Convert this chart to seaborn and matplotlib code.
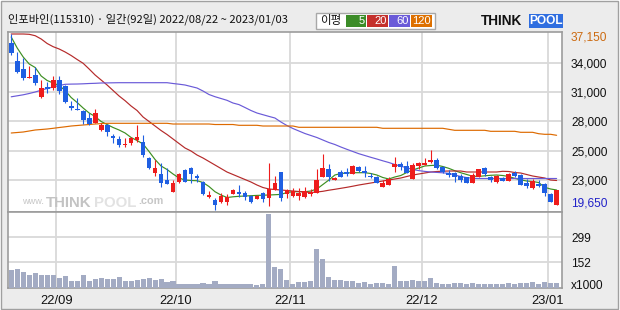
import numpy as np
import pandas as pd
import matplotlib
matplotlib.use("Agg")
import matplotlib.pyplot as plt
import seaborn as sns
from matplotlib.patches import Rectangle
from matplotlib.transforms import blended_transform_factory as btf

# ---------------- data ----------------
title = "인포바인(115310) · 일간(92일) 2022/08/22 ~ 2023/01/03"

opens = [36225, 34465, 33670, 32805, 33073, 30916, 31910, 31751, 32576, 31980,
         29961, 29693, 29524, 28768, 28331, 27605, 28102, 27008, 26710, 26130,
         26282, 26611, 26382, 24791, 23299, 23230, 22633, 21470, 22464, 23627,
         23796, 23061, 22464, 20913, 20645, 20476, 20476, 21241, 21440, 21311,
         21042, 20774, 21311, 20813, 21639, 23459, 21291, 21072, 21042, 20973,
         21211, 21370, 22902, 23697, 22633, 23459, 23459, 23230, 23896, 23528,
         22961, 22902, 21967, 22166, 23955, 24224, 24026, 22703, 24055, 24125,
         24393, 24622, 23896, 23359, 23359, 23031, 22902, 22365, 22961, 23796,
         22902, 22464, 22803, 22564, 23299, 23130, 22305, 21808, 22206, 22235,
         21241, 20148]
highs = [37150, 35390, 34734, 33998, 33839, 32576, 32407, 33004, 33004, 32079,
         30518, 30757, 29593, 29265, 29663, 28331, 28172, 27207, 27008, 26780,
         26939, 28102, 27108, 24950, 24622, 24294, 23796, 22633, 23299, 23697,
         23955, 23230, 22534, 21539, 20813, 21311, 21241, 21738, 22136, 21539,
         21142, 21142, 21410, 24354, 23061, 23459, 21738, 21808, 21808, 21936,
         21708, 23697, 25218, 24195, 22960, 23627, 23796, 24125, 24000, 24055,
         23359, 23031, 22633, 22962, 24950, 24453, 24523, 24294, 24453, 24791,
         25616, 24791, 24000, 23627, 23420, 23230, 22960, 23299, 23750, 23896,
         23031, 23130, 22962, 23299, 23528, 23200, 22703, 22703, 22633, 22300,
         21340, 21639]
lows = [35062, 33242, 32576, 32805, 32079, 30757, 31254, 31582, 31184, 30260,
        29593, 29563, 28172, 28102, 28271, 27535, 27008, 26342, 25944, 25885,
        26113, 26441, 24950, 23697, 23031, 21967, 22206, 21470, 22365, 22405,
        22365, 22464, 21142, 20813, 19650, 20317, 20148, 21200, 20973, 20645,
        20377, 20700, 20476, 20078, 21639, 20575, 20813, 20973, 20645, 20813,
        21042, 21311, 22902, 22564, 22633, 22902, 23031, 23230, 23459, 22902,
        22803, 22365, 21967, 22136, 23459, 23627, 23299, 22703, 23697, 24125,
        24294, 23727, 23299, 22902, 22464, 22464, 22365, 22365, 22961, 23031,
        22464, 22305, 22564, 22564, 22902, 22136, 21808, 21738, 21907, 21042,
        20476, 20148]
closes = [35231, 33342, 32805, 32900, 32248, 31811, 31652, 32576, 31482, 30419,
          29762, 29593, 28599, 28172, 29265, 28102, 27376, 26809, 26113, 26200,
          26780, 26939, 25119, 23856, 23856, 22365, 22235, 22305, 23230, 22464,
          23230, 22862, 21241, 21142, 20148, 21072, 20973, 21639, 21270, 20973,
          20476, 21042, 20714, 21708, 22365, 20873, 21590, 21569, 21370, 21539,
          21470, 22633, 23796, 22961, 22862, 22961, 23230, 24026, 23528, 23299,
          22902, 22365, 22305, 22763, 24224, 23896, 23299, 24125, 24294, 24354,
          24622, 23796, 23459, 23130, 22961, 22633, 22365, 23130, 23697, 23230,
          22633, 23031, 22564, 23230, 23031, 22136, 22037, 22534, 22037, 21311,
          20476, 21639]
volume = [103, 109, 93, 74, 91, 74, 74, 78, 56, 68,
          40, 42, 74, 44, 50, 56, 50, 50, 62, 40,
          42, 48, 52, 56, 48, 50, 36, 40, 26, 26,
          26, 21, 32, 21, 40, 21, 21, 21, 21, 21,
          21, 15, 21, 438, 126, 109, 46, 26, 38, 36,
          40, 232, 173, 62, 46, 46, 40, 40, 30, 34,
          24, 28, 28, 22, 132, 40, 40, 46, 40, 40,
          58, 30, 26, 22, 28, 28, 22, 28, 22, 22,
          22, 22, 22, 28, 22, 28, 28, 34, 22, 34,
          28, 28]
ma5 = [36852, 35758, 34863, 34169, 33819, 32974, 32526, 32278, 32029, 31532,
       30836, 30339, 29792, 29295, 28947, 28450, 28151, 27853, 27605, 27307,
       26859, 26561, 26213, 25467, 24672, 24026, 23677, 23230, 22832, 22633,
       22584, 22564, 22385, 21987, 21470, 21142, 20893, 20963, 21012, 21042,
       21072, 21102, 21122, 21142, 21171, 21201, 21390, 21470, 21470, 21470,
       21540, 21739, 22185, 22633, 23130, 23279, 23329, 23359, 23359, 23359,
       23279, 23130, 22882, 22733, 22931, 23080, 23379, 23627, 23826, 24026,
       24075, 24105, 23976, 23797, 23558, 23359, 23180, 23011, 22991, 23051,
       23101, 23130, 23080, 22981, 22802, 22653, 22534, 22484, 22385, 21907,
       21739, 21639]
ma20 = [37150, 37150, 37150, 37120, 36981, 36653, 36205, 35887, 35659, 35360,
        35012, 34615, 34237, 33670, 33073, 32576, 32079, 31532, 30985, 30518,
        29991, 29543, 28897, 28450, 28002, 27555, 27157, 26710, 26262, 25815,
        25517, 25119, 24821, 24473, 24125, 23777, 23429, 23180, 22931, 22683,
        22434, 22136, 21887, 21739, 21689, 21639, 21589, 21540, 21490, 21440,
        21390, 21440, 21510, 21619, 21709, 21808, 21907, 22017, 22136, 22236,
        22335, 22434, 22534, 22633, 22733, 22832, 22981, 23130, 23230, 23329,
        23429, 23478, 23508, 23528, 23528, 23528, 23429, 23429, 23429, 23429,
        23429, 23429, 23498, 23478, 23379, 23329, 23180, 23031, 22931, 22832,
        22633, 22584]
ma60 = [30906, 31005, 31105, 31234, 31383, 31562, 31731, 31880, 32029, 32149,
        32169, 32178, 32198, 32228, 32248, 32278, 32288, 32298, 32308, 32308,
        32308, 32308, 32308, 32308, 32308, 32308, 32308, 32228, 32159, 32079,
        31930, 31781, 31482, 31134, 30916, 30737, 30558, 30289, 30130, 29842,
        29544, 29295, 29126, 28957, 28798, 28400, 28052, 27754, 27505, 27257,
        27058, 26859, 26610, 26362, 26163, 25914, 25686, 25467, 25248, 25069,
        24890, 24721, 24542, 24373, 24174, 24005, 23846, 23677, 23568, 23488,
        23429, 23389, 23349, 23299, 23130, 22981, 22872, 22802, 22782, 22782,
        22782, 22782, 22782, 22782, 22782, 22782, 22782, 22782, 22782, 22782,
        22782, 22782]
ma120 = [27307, 27356, 27406, 27505, 27605, 27654, 27704, 27774, 27853, 27923,
         28002, 28052, 28102, 28151, 28201, 28241, 28271, 28271, 28271, 28271,
         28271, 28271, 28271, 28271, 28271, 28271, 28271, 28201, 28201, 28201,
         28201, 28201, 28201, 28201, 28151, 28151, 28151, 28151, 28072, 28072,
         28072, 28072, 28002, 28002, 28002, 28002, 28002, 28002, 27873, 27873,
         27873, 27873, 27873, 27873, 27873, 27873, 27873, 27873, 27873, 27873,
         27873, 27873, 27774, 27774, 27774, 27774, 27774, 27774, 27774, 27774,
         27774, 27774, 27774, 27674, 27575, 27575, 27575, 27575, 27575, 27575,
         27475, 27475, 27475, 27475, 27475, 27376, 27376, 27376, 27237, 27177,
         27177, 27078]

month_start_idx = [8, 28, 47, 69, 90]
month_labels = ["22/09", "22/10", "22/11", "22/12", "23/01"]
price_grid = [34237, 31413, 28529, 25547, 22633]
price_grid_labels = ["34,000", "31,000", "28,000", "25,000", "23,000"]
price_max, price_min = 37150, 19650
vol_ticks = [152, 299]
ma_names = ["5", "20", "60", "120"]

# ---------------- style ----------------
UP = "#ee1c1c"
DOWN = "#1f5fe2"
VOLC = "#a3abc3"
MA_COLORS = {"5": "#3d8f22", "20": "#b52a2a", "60": "#6a5ad8", "120": "#dd6a00"}
BOX_COLORS = {"5": "#3c8c28", "20": "#c4302c", "60": "#6a5ad8", "120": "#dd7000"}
GRID = "#d9d9d9"
SPINE = "#9c9c9c"
BG = "#ececec"

sns.set_theme(style="white")
plt.rcParams["font.family"] = ["Noto Sans CJK KR", "DejaVu Sans"]

W, H = 620, 310
fig = plt.figure(figsize=(6.2, 3.1), dpi=100, facecolor="white")


def rect(x0, y0, x1, y1):
    return [x0 / W, 1 - y1 / H, (x1 - x0) / W, (y1 - y0) / H]


def fx(x):
    return x / W


def fy(y):
    return 1 - y / H


fig.patches.append(Rectangle((fx(1), fy(308.5)), (616.5) / W, 307.5 / H,
                             transform=fig.transFigure, facecolor=BG,
                             edgecolor="#a0a0a0", lw=1, zorder=-5))

axp = fig.add_axes(rect(7.5, 32, 562, 212))
axv = fig.add_axes(rect(7.5, 212, 562, 288))
for ax in (axp, axv):
    ax.set_facecolor("white")
    ax.set_axisbelow(True)

n = len(opens)
idx = np.arange(n)
o = np.array(opens, float)
c = np.array(closes, float)
hi = np.array(highs, float)
lo = np.array(lows, float)
colors = np.where(c >= o, UP, DOWN)

# moving averages (seaborn)
ma_df = pd.DataFrame({
    "idx": np.tile(idx, 4),
    "value": np.concatenate([ma5, ma20, ma60, ma120]),
    "ma": np.repeat(ma_names, n),
})
sns.lineplot(data=ma_df, x="idx", y="value", hue="ma", hue_order=ma_names,
             palette=MA_COLORS, estimator=None, sort=False, linewidth=0.85,
             legend=False, ax=axp, zorder=2)

# candles
axp.vlines(idx, lo, hi, colors=colors, lw=0.8, zorder=3)
body_bottom = np.minimum(o, c)
body_h = np.maximum(np.abs(c - o), 90)
axp.bar(idx, body_h, bottom=body_bottom, width=0.8, color=colors,
        linewidth=0, zorder=4)

axp.set_xlim(-0.62, 91.9)
axp.set_ylim(19452, 37349)
axp.set_xlabel("")
axp.set_ylabel("")
axp.set_xticks([m - 0.5 for m in month_start_idx])
axp.set_yticks(price_grid)
axp.set_yticklabels(price_grid_labels)
axp.yaxis.tick_right()
axp.tick_params(axis="x", labelbottom=False, length=0)
axp.tick_params(axis="y", length=0, pad=6.5, labelsize=8.6,
                labelcolor="#111111", labelfontfamily="Liberation Sans")
axp.grid(True, color=GRID, lw=1.3)

tr = btf(axp.transAxes, axp.transData)
axp.text(1 + 9 / 554.5, price_max - 300, f"{price_max:,}", transform=tr,
         ha="left", va="center", fontsize=8.6, color="#cc6a10",
         family="Liberation Sans", clip_on=False)
axp.text(1 + 9 / 554.5, price_min + 600, f"{price_min:,}", transform=tr,
         ha="left", va="center", fontsize=8.6, color="#2222c8",
         family="Liberation Sans", clip_on=False)

# watermark
wm_y = fy(203)
axp.text(fx(22), wm_y + 0.006, "www.", transform=fig.transFigure, fontsize=6.6,
         color="#c6c6c6", ha="left", va="center", family="Liberation Sans",
         zorder=1)
axp.text(fx(46), wm_y, "THINK", transform=fig.transFigure, fontsize=10.8,
         color="#c3c3c3", ha="left", va="center", family="Liberation Sans",
         fontweight="bold", zorder=1)
axp.text(fx(94), wm_y, "POOL", transform=fig.transFigure, fontsize=10.8,
         color="#e2e2e2", ha="left", va="center", family="Liberation Sans",
         fontweight="bold", zorder=1)
axp.text(fx(138), wm_y + 0.005, ".com", transform=fig.transFigure, fontsize=7.8,
         color="#c6c6c6", ha="left", va="center", family="Liberation Sans",
         fontweight="bold", zorder=1)

# volume (seaborn)
sns.barplot(x=idx, y=volume, native_scale=True, color=VOLC, saturation=1,
            width=0.85, errorbar=None, linewidth=0, ax=axv, zorder=3)
axv.set_xlim(-0.62, 91.9)
axv.set_ylim(0, 447)
axv.set_xlabel("")
axv.set_ylabel("")
axv.set_xticks([m - 0.5 for m in month_start_idx])
axv.set_xticklabels(month_labels)
axv.set_yticks(vol_ticks)
axv.set_yticklabels([str(v) for v in vol_ticks])
axv.yaxis.tick_right()
axv.tick_params(axis="x", length=0, pad=5, labelsize=9.3,
                labelcolor="#111111", labelfontfamily="Liberation Sans")
axv.tick_params(axis="y", length=0, pad=6.5, labelsize=8.6,
                labelcolor="#111111", labelfontfamily="Liberation Sans")
axv.grid(True, color=GRID, lw=1.3)
axv.text(1 + 9 / 554.5, 0.02, "x1000", transform=axv.transAxes, ha="left",
         va="center", fontsize=8.6, color="#111111", family="Liberation Sans",
         clip_on=False)

for ax in (axp, axv):
    for s in ax.spines.values():
        s.set_color(SPINE)
        s.set_linewidth(1.2)
        s.set_visible(True)

# title
fig.text(fx(8), fy(19), title, fontsize=8.1, ha="left", va="center",
         color="#111111")

# legend box
fig.patches.append(Rectangle((fx(316), fy(29)), 119 / W, 16.5 / H,
                             transform=fig.transFigure, facecolor="white",
                             edgecolor="#a8a8a8", lw=1, zorder=2))
fig.text(fx(320), fy(20.5), "이평", fontsize=8.3, ha="left", va="center",
         color="#111111", zorder=3)
box_x = [(346, 366), (367, 388), (389, 410), (411, 432)]
for name, (x0, x1) in zip(ma_names, box_x):
    fig.patches.append(Rectangle((fx(x0), fy(27)), (x1 - x0) / W, 12 / H,
                                 transform=fig.transFigure,
                                 facecolor=BOX_COLORS[name], lw=0, zorder=3))
    fig.text(fx(x1 - 1), fy(21), name, fontsize=8, ha="right", va="center",
             color="white", family="Liberation Sans", zorder=4)

# header logo
fig.text(fx(481), fy(21), "THINK", fontsize=9.8, ha="left", va="center",
         color="#111111", family="Liberation Sans", fontweight="bold")
fig.patches.append(Rectangle((fx(529), fy(27.5)), 34 / W, 13.5 / H,
                             transform=fig.transFigure, facecolor="#2f6ee0",
                             lw=0, zorder=2))
fig.text(fx(546), fy(21), "POOL", fontsize=8.6, ha="center", va="center",
         color="white", family="Liberation Sans", fontweight="bold", zorder=3)

fig.savefig("out.png", dpi=100, facecolor=fig.get_facecolor())
